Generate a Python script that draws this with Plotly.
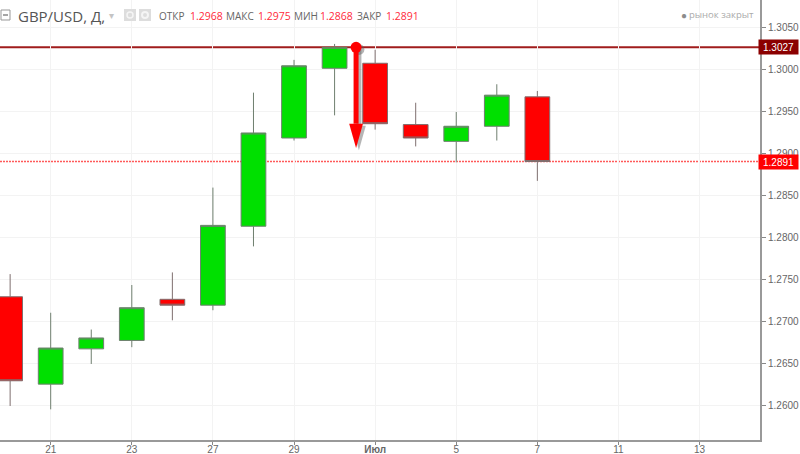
import plotly.graph_objects as go

# daily candles, index 0 is the partly hidden one at the left edge
days = list(range(14))
opens = [1.2730, 1.2626, 1.2668, 1.2678, 1.2727, 1.2720, 1.2814, 1.2919, 1.3002, 1.3008, 1.2935, 1.2915, 1.2933, 1.2968]
highs = [1.2757, 1.2711, 1.2691, 1.2744, 1.2759, 1.2860, 1.2973, 1.3012, 1.3031, 1.3024, 1.2961, 1.2950, 1.2983, 1.2975]
lows = [1.2600, 1.2596, 1.2650, 1.2670, 1.2702, 1.2714, 1.2790, 1.2916, 1.2946, 1.2929, 1.2909, 1.2890, 1.2916, 1.2868]
closes = [1.2630, 1.2669, 1.2681, 1.2717, 1.2720, 1.2815, 1.2925, 1.3005, 1.3027, 1.2936, 1.2919, 1.2933, 1.2970, 1.2891]

x_ticks = [1, 3, 5, 7, 9, 11, 13, 15, 17]
x_labels = ['21', '23', '27', '29', '<b>Июл</b>', '5', '7', '11', '13']
y_ticks = [1.26, 1.265, 1.27, 1.275, 1.28, 1.285, 1.29, 1.295, 1.30, 1.305]

level_price = 1.3027
last_price = 1.2891

arrow_x = 8.53
arrow_top = 1.3027
arrow_neck = 1.2936
arrow_tip = 1.2907
arrow_half = 0.17

header_words = ['ОТКР', '1.2968', 'МАКС', '1.2975', 'МИН', '1.2868', 'ЗАКР', '1.2891']
header_left = [158, 189, 225, 257, 293, 319, 356, 385]

W, H = 760, 440
GREEN = '#00e000'
RED = '#ff0000'


def px(x):
    return x / W


def py(y):
    return (H - y) / H


def label(x, y, text, size=11, color='#666666', anchor='left', font='Open Sans', **kw):
    return dict(xref='paper', yref='paper', x=px(x), y=py(y), text=text, showarrow=False,
                xanchor=anchor, yanchor='middle', font=dict(family=font, size=size, color=color),
                borderpad=0, **kw)


def box(x0, y0, x1, y1, **kw):
    return dict(type='rect', xref='paper', yref='paper', x0=px(x0), x1=px(x1), y0=py(y0), y1=py(y1), **kw)


def arrow_traces(dx, dy, color):
    return [
        go.Scatter(x=[arrow_x + dx, arrow_x + dx], y=[arrow_top + dy, arrow_neck + dy], mode='lines',
                   line=dict(color=color, width=5), hoverinfo='skip'),
        go.Scatter(x=[arrow_x + dx - arrow_half, arrow_x + dx + arrow_half, arrow_x + dx, arrow_x + dx - arrow_half],
                   y=[arrow_neck + dy, arrow_neck + dy, arrow_tip + dy, arrow_neck + dy],
                   mode='lines', fill='toself', fillcolor=color, line=dict(color=color, width=0), hoverinfo='skip'),
        go.Scatter(x=[arrow_x + dx], y=[arrow_top + dy], mode='markers',
                   marker=dict(color=color, size=11), hoverinfo='skip'),
    ]


fig = go.Figure()

fig.add_trace(go.Candlestick(
    x=days, open=opens, high=highs, low=lows, close=closes,
    whiskerwidth=0,
    increasing=dict(fillcolor=GREEN, line=dict(color='#6f7f6f', width=1)),
    decreasing=dict(fillcolor=RED, line=dict(color='#7f6f6f', width=1)),
))

# soft shadow first, then the arrow itself
for t in arrow_traces(0.07, -0.00025, 'rgba(90,90,90,0.45)'):
    fig.add_trace(t)
for t in arrow_traces(0, 0, RED):
    fig.add_trace(t)

fig.add_hline(y=level_price, line=dict(color='#a01c1c', width=2), layer='below')
fig.add_hline(y=last_price, line=dict(color='#ff5a5a', width=1.5, dash='2px,1px'), layer='below')

annotations = [
    label(17, 16, 'GBP/USD, Д,', size=15, color='#555555'),
    label(755, 15, 'рынок закрыт', size=9.5, color='#aaaaaa', anchor='right'),
    label(684, 15, '●', size=10, color='#8c8c8c', anchor='center'),
    label(111, 15, '▾', size=10, color='#c4c4c4', anchor='center'),
    # price tags sit over the axis labels
    label(779, 47, '1.3027', size=10, color='#ffffff', anchor='center', font='Liberation Sans',
          bgcolor='#8b0000', width=39, height=14),
    label(779, 162, '1.2891', size=10, color='#ffffff', anchor='center', font='Liberation Sans',
          bgcolor=RED, width=39, height=14),
]
for i, (word, left) in enumerate(zip(header_words, header_left)):
    annotations.append(label(left, 16, word, size=10 if i % 2 == 0 else 10.5, color='#ff2a3a' if i % 2 else '#666666'))

shapes = [
    box(1, 10, 10, 20, line=dict(color='#999999', width=1)),
    box(3, 15, 8, 15, line=dict(color='#888888', width=1)),
    box(124, 9, 136, 21, fillcolor='#dddddd', line=dict(width=0)),
    box(139, 9, 151, 21, fillcolor='#dddddd', line=dict(width=0)),
    dict(type='circle', xref='paper', yref='paper', x0=px(127), x1=px(133), y0=py(18), y1=py(12),
         line=dict(color='#f5f5f5', width=1.5)),
    dict(type='circle', xref='paper', yref='paper', x0=px(142), x1=px(148), y0=py(18), y1=py(12),
         line=dict(color='#f5f5f5', width=2)),
]

fig.update_layout(
    width=800, height=454,
    margin=dict(l=0, r=40, t=0, b=14),
    plot_bgcolor='white', paper_bgcolor='white',
    showlegend=False, boxgap=0.39, boxgroupgap=0,
    annotations=annotations,
    xaxis=dict(range=[-0.25, 18.49], tickvals=x_ticks, ticktext=x_labels, rangeslider=dict(visible=False),
               automargin=False, ticklabelstandoff=-4,
               showgrid=True, gridcolor='#f3f3f3', zeroline=False, ticks='outside', ticklen=3, tickcolor='#888888',
               showline=True, linecolor='#999999', linewidth=2,
               tickfont=dict(family='Liberation Sans', size=10, color='#666666')),
    yaxis=dict(range=[1.25595, 1.30833], side='right', tickvals=y_ticks, tickformat='.4f', automargin=False,
               showgrid=True, gridcolor='#f3f3f3', zeroline=False, ticks='outside', ticklen=4, tickcolor='#888888',
               showline=True, linecolor='#999999', linewidth=2,
               tickfont=dict(family='Liberation Sans', size=10, color='#666666')),
)
for s in shapes:
    fig.add_shape(s)

# the page's default body margin would push the chart 8px in
fig.write_html("out.html", config=dict(displayModeBar=False),
               post_script="document.body.style.margin='0';document.body.style.overflow='hidden';")
